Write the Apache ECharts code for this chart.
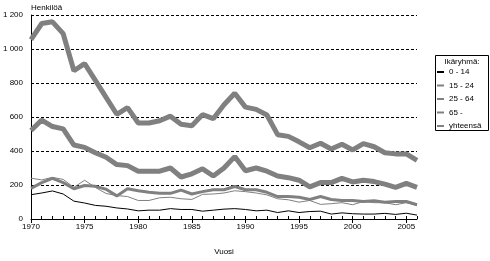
<!DOCTYPE html>
<html><head><meta charset="utf-8">
<script src="https://cdn.jsdelivr.net/npm/echarts@6/dist/echarts.min.js"></script>
<style>html,body{margin:0;padding:0;background:#fff}#c{width:490px;height:261px}</style>
</head><body><div id="c"></div>
<script>
const years = ['1970','1971','1972','1973','1974','1975','1976','1977','1978','1979','1980','1981','1982','1983','1984','1985','1986','1987','1988','1989','1990','1991','1992','1993','1994','1995','1996','1997','1998','1999','2000','2001','2002','2003','2004','2005','2006'];
const age0_14 = [143,153,165,147,105,94,80,75,65,59,48,52,52,61,56,56,46,52,58,61,56,48,52,38,48,38,44,46,29,36,31,29,29,33,27,34,23];
const age15_24 = [240,230,245,233,186,228,186,150,138,132,109,109,125,128,119,115,145,147,153,166,161,153,142,119,113,99,109,86,90,96,84,103,96,96,84,96,80];
const age25_64 = [521,582,544,530,435,421,390,363,320,314,281,281,281,300,247,266,295,253,300,367,284,300,281,253,243,228,189,214,214,239,218,228,220,205,186,209,186];
const age65 = [180,214,239,214,178,197,192,175,136,178,166,157,151,151,170,147,161,172,172,191,172,172,157,132,132,128,115,132,115,109,109,103,107,99,103,103,84];
const total = [1055,1150,1160,1090,872,914,815,715,616,655,565,565,578,605,557,549,614,590,672,740,658,645,612,496,486,454,419,446,412,440,406,444,425,390,383,383,345];
const seriesNames = ['0 - 14','15 - 24','25 - 64','65 -','yhteensä'];
const legendTitle = 'Ikäryhmä:';
const yName = 'Henkilöä';
const xName = 'Vuosi';

const FF = '"Liberation Sans Narrow", "Liberation Sans", Arial, sans-serif';
const chart = echarts.init(document.getElementById('c'), null, {renderer:'canvas'});
function mk(name, data, color, width){
  return {name, type:'line', data, xAxisIndex:0, yAxisIndex:0, symbol:'none', showSymbol:false,
    lineStyle:{color, width}, itemStyle:{color}, emphasis:{disabled:true}, animation:false};
}
chart.setOption({
  animation:false,
  backgroundColor:'#fff',
  grid:{left:28, right:73, top:15, bottom:37, containLabel:false},
  xAxis:[
    {type:'category', data:years, boundaryGap:false,
     axisLine:{lineStyle:{color:'#000', width:1}},
     axisTick:{show:true, inside:true, length:3, interval:0, lineStyle:{color:'#000'}},
     axisLabel:{show:false}, splitLine:{show:false}},
    {type:'category', data:years, boundaryGap:false, position:'bottom',
     axisLine:{show:false},
     axisTick:{show:true, inside:false, length:4, interval:(i)=>i%5===0, lineStyle:{color:'#000'}},
     axisLabel:{interval:(i)=>i%5===0, margin:4, fontSize:8, fontFamily:FF, color:'#000'},
     splitLine:{show:false},
     name:xName, nameLocation:'middle', nameGap:29,
     nameTextStyle:{fontSize:8, fontFamily:FF, color:'#000'}}
  ],
  yAxis:{type:'value', min:0, max:1200, interval:200,
    axisLine:{show:true, lineStyle:{color:'#000', width:1}},
    axisTick:{show:false},
    splitLine:{show:true, lineStyle:{color:'#000', width:1, type:[3,2]}},
    axisLabel:{margin:8, fontSize:8, fontFamily:FF, color:'#000',
      formatter:(v)=> v>=1000 ? String(v).replace(/(\d)(\d{3})$/, '$1 $2') : String(v)},
    name:yName, nameLocation:'end', nameGap:3,
    nameTextStyle:{fontSize:8, fontFamily:FF, color:'#000', align:'left', verticalAlign:'bottom'}},
  legend:{orient:'vertical', left:436, top:67, itemWidth:7, itemHeight:10, itemGap:3.5,
    padding:0, selectedMode:false,
    itemStyle:{opacity:0, borderWidth:0},
    textStyle:{fontSize:8, fontFamily:FF, color:'#000', lineHeight:10},
    data:seriesNames},
  graphic:[
    {type:'rect', z:1, shape:{x:435.5, y:55.5, width:53, height:75}, style:{fill:'#fff', stroke:'#000', lineWidth:1}},
    {type:'text', z:2, x:462, y:62, style:{text:legendTitle, fontSize:8, fontFamily:FF, fill:'#000', align:'center', verticalAlign:'middle'}}
  ],
  series:[
    mk(seriesNames[0], age0_14, '#000000', 1),
    mk(seriesNames[1], age15_24, '#808080', 1),
    mk(seriesNames[2], age25_64, '#808080', 5),
    mk(seriesNames[3], age65, '#808080', 3),
    mk(seriesNames[4], total, '#808080', 5)
  ]
});
</script></body></html>
